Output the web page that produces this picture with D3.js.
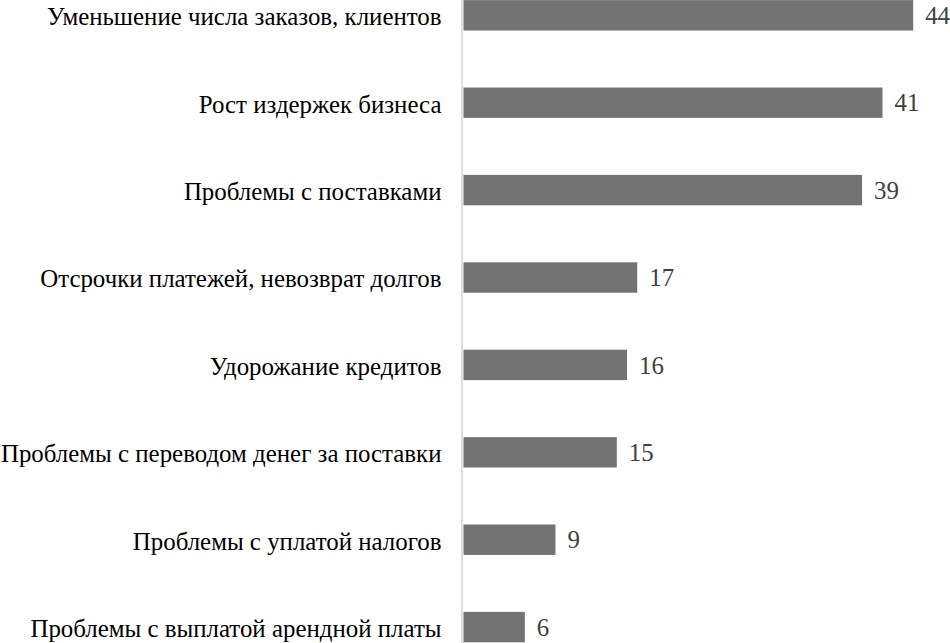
<!DOCTYPE html>
<html><head><meta charset="utf-8">
<script src="https://cdn.jsdelivr.net/npm/d3@7"></script>
<style>html,body{margin:0;padding:0;background:#fff;overflow:hidden}
text{font-family:"Liberation Serif","Times New Roman",serif}</style>
</head><body>
<svg id="c" width="950" height="643"></svg>
<script>
const categories = [
  "Уменьшение числа заказов, клиентов",
  "Рост издержек бизнеса",
  "Проблемы с поставками",
  "Отсрочки платежей, невозврат долгов",
  "Удорожание кредитов",
  "Проблемы с переводом денег за поставки",
  "Проблемы с уплатой налогов",
  "Проблемы с выплатой арендной платы"
];
const values = [44, 41, 39, 17, 16, 15, 9, 6];

const svg = d3.select("#c");
const x0 = 463.5, unit = 10.22;
const x = d3.scaleLinear().domain([0, 44]).range([x0, x0 + 44 * unit]);
const p = 0.652, step = 87.4;
const yTop = 0.1 - step * p / 2;
const y = d3.scaleBand().domain(categories).range([yTop, yTop + step * categories.length])
  .paddingInner(p).paddingOuter(p / 2);

const data = categories.map((c, i) => ({c, v: values[i]}));

svg.append("line").attr("x1", 462).attr("x2", 462).attr("y1", 0).attr("y2", 643)
  .attr("stroke", "#d4d4d4").attr("stroke-width", 1.5);

svg.selectAll("rect.bar").data(data).join("rect").attr("class", "bar")
  .attr("x", x(0)).attr("y", d => y(d.c))
  .attr("width", d => x(d.v) - x(0)).attr("height", y.bandwidth())
  .attr("fill", "#737373");

svg.selectAll("text.val").data(data).join("text").attr("class", "val")
  .attr("x", d => x(d.v) + 12).attr("y", d => y(d.c) + y.bandwidth() / 2)
  .attr("dy", "0.35em")
  .attr("font-size", 24.9).attr("fill", "#404040")
  .text(d => d.v);

svg.selectAll("text.cat").data(data).join("text").attr("class", "cat")
  .attr("x", 441.5).attr("y", d => y(d.c) + y.bandwidth() / 2)
  .attr("dy", "0.4em").attr("text-anchor", "end")
  .attr("font-size", 24.9).attr("fill", "#000")
  .text(d => d.c);
</script>
</body></html>
